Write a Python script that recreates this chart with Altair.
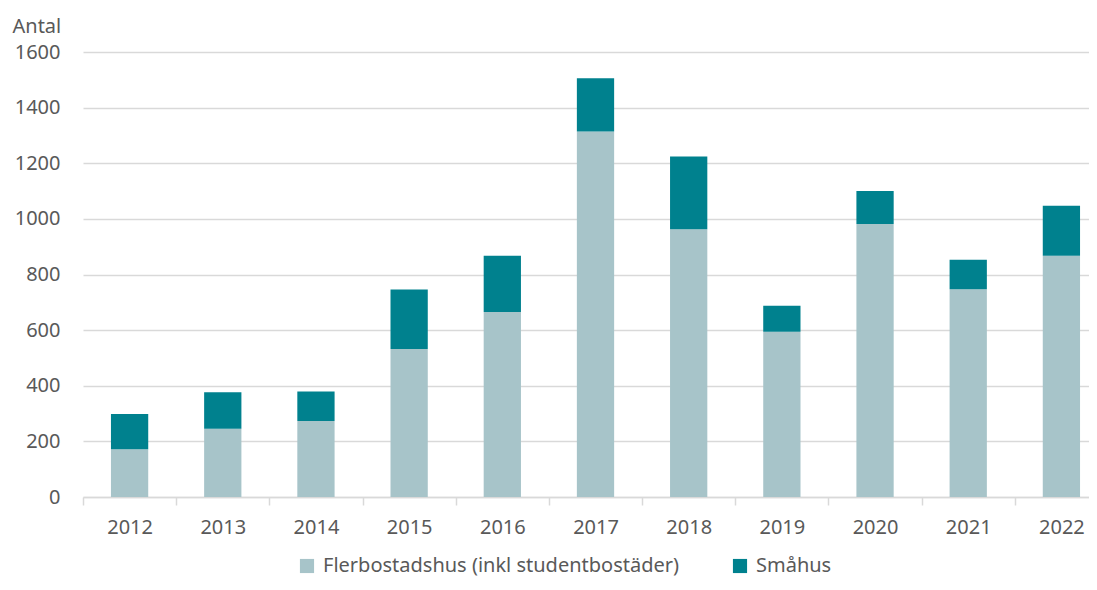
import altair as alt
import pandas as pd

years = ["2012", "2013", "2014", "2015", "2016", "2017", "2018", "2019", "2020", "2021", "2022"]
flerbostadshus = [172, 245, 273, 532, 665, 1314, 963, 594, 982, 747, 867]
smahus_total = [298, 377, 379, 746, 867, 1506, 1224, 688, 1100, 853, 1047]
smahus = [t - f for t, f in zip(smahus_total, flerbostadshus)]
series = ["Flerbostadshus (inkl studentbostäder)", "Småhus"]
colors = ["#A7C4C9", "#00818E"]

rows = []
for i, y in enumerate(years):
    rows.append({"year": y, "serie": series[0], "value": flerbostadshus[i], "ord": 0})
    rows.append({"year": y, "serie": series[1], "value": smahus[i], "ord": 1})
df = pd.DataFrame(rows)

FONT = "Noto Sans"
TXT = "#595959"
GRID = "#D9D9D9"

chart = alt.Chart(df).mark_bar(width=alt.RelativeBandSize(0.4)).encode(
    x=alt.X("year:N", sort=years,
            scale=alt.Scale(paddingInner=0, paddingOuter=0, range=[0, 1025]),
            axis=alt.Axis(title=None, labelAngle=0, labelFont=FONT, labelFontSize=20,
                          labelColor=TXT, labelPadding=12, tickBand="extent",
                          ticks=True, tickSize=8, tickColor=GRID, tickWidth=1.5,
                          domainColor=GRID, domainWidth=1.5, grid=False)),
    y=alt.Y("value:Q", stack="zero",
            scale=alt.Scale(domain=[0, 1600], nice=False),
            axis=alt.Axis(title="Antal", titleAngle=0, titleX=-71, titleY=-20,
                          titleAlign="left", titleBaseline="alphabetic",
                          titleFont=FONT, titleFontSize=20, titleFontWeight="normal",
                          titleColor=TXT, format="d",
                          values=[0, 200, 400, 600, 800, 1000, 1200, 1400, 1600],
                          labelFont=FONT, labelFontSize=20, labelColor=TXT,
                          labelPadding=23, ticks=False, domain=False,
                          grid=True, gridColor=GRID, gridWidth=1.5)),
    color=alt.Color("serie:N", sort=series,
                    scale=alt.Scale(domain=series, range=colors),
                    legend=alt.Legend(title=None, orient="none", legendX=214, legendY=504,
                                      direction="horizontal", symbolType="square",
                                      symbolSize=200, symbolStrokeWidth=0,
                                      labelFont=FONT, labelFontSize=20, labelColor=TXT,
                                      labelLimit=0, labelOffset=6, columnPadding=50)),
    order=alt.Order("ord:Q", sort="ascending"),
).properties(
    width=1006,
    height=445,
    autosize=alt.AutoSizeParams(type="none"),
    padding={"left": 75, "top": 44, "right": 0, "bottom": 80},
).configure_view(stroke=None)

chart.save("out.html", embed_options={"renderer": "svg", "actions": False})
